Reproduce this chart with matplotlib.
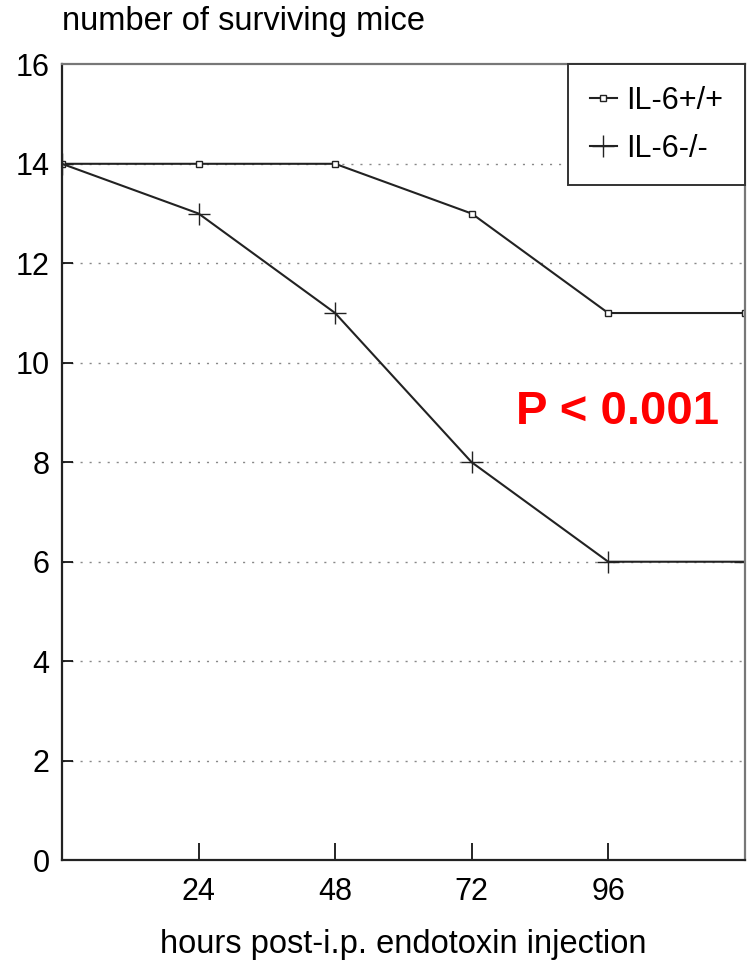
import matplotlib.pyplot as plt
import numpy as np

plt.rcParams['font.family'] = ['Liberation Sans', 'DejaVu Sans']

# survival counts
hours = [0, 24, 48, 72, 96, 120]
wild_type = [14, 14, 14, 13, 11, 11]   # IL-6+/+
knockout = [14, 13, 11, 8, 6, 6]       # IL-6-/-
x_ticks = [24, 48, 72, 96]
y_ticks = list(range(0, 17, 2))

fig = plt.figure(figsize=(7.47, 9.6), dpi=100)
ax = fig.add_axes([0.083, 0.104, 0.914, 0.829])

# dotted grid lines at inner y ticks
for yv in y_ticks[1:-1]:
    ax.axhline(yv, color='#888888', lw=1.0, ls=(0, (1.5, 5)), zorder=0)

ax.plot(hours, wild_type, color='#222222', lw=1.5, marker='s', ms=4,
        mfc='white', mec='#222222', mew=1.0, label='IL-6+/+')
ax.plot(hours, knockout, color='#222222', lw=1.5, marker='+', ms=16,
        mew=1.0, label='IL-6-/-')

ax.set_xlim(0, 120)
ax.set_ylim(0, 16)
ax.set_xticks(x_ticks)
ax.set_yticks(y_ticks)
ax.tick_params(axis='x', direction='in', length=12, width=1.2, labelsize=22, pad=12)
ax.tick_params(axis='y', direction='in', length=8, width=1.2, labelsize=22, pad=9)

for side in ['left', 'bottom']:
    ax.spines[side].set_color('#222222')
    ax.spines[side].set_linewidth(1.6)
for side in ['top', 'right']:
    ax.spines[side].set_color('#777777')
    ax.spines[side].set_linewidth(1.6)

ax.set_xlabel('hours post-i.p. endotoxin injection', fontsize=23.5, labelpad=16)
fig.text(0.083, 0.978, 'number of surviving mice', fontsize=23.5, ha='left', va='center')

ax.text(97.7, 9.0, 'P < 0.001', color='red', fontsize=34, fontweight='bold',
        ha='center', va='center')

leg = ax.legend(loc='upper right', fontsize=22, handlelength=0.9, handletextpad=0.3,
                borderpad=0.7, labelspacing=0.6, fancybox=False, framealpha=1,
                edgecolor='#333333', borderaxespad=0)
leg.get_frame().set_linewidth(1.4)

fig.savefig('out.png', dpi=100)
